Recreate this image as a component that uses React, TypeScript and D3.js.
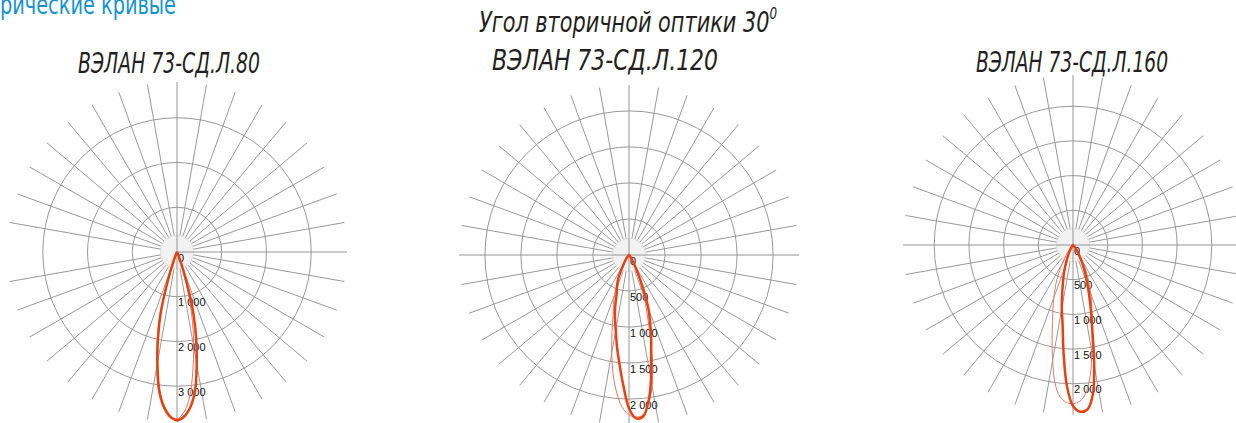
import React from 'react';
import * as d3 from 'd3';

// Gamma angles (degrees, 0 = straight down, positive = to the right)
const GAMMA = [-45, -40, -35, -30, -27.5, -25, -22.5, -20, -17.5, -15, -12.5, -10, -7.5, -5, -2.5, 0, 2.5, 5, 7.5, 10, 12.5, 15, 17.5, 20, 22.5, 25, 27.5, 30, 35, 40, 45];

// Luminous intensity, cd
const C1_MAIN = [0, 0, 5, 10, 20, 40, 100, 270, 720, 1400, 1960, 2520, 3080, 3450, 3670, 3760, 3680, 3470, 3110, 2540, 1980, 1410, 740, 280, 100, 40, 20, 10, 5, 0, 0];
const C1_SEC = [0, 0, 5, 10, 25, 50, 130, 330, 800, 1500, 2050, 2600, 3150, 3500, 3700, 3730, 3580, 3250, 2700, 2150, 1600, 1050, 500, 180, 60, 25, 10, 5, 0, 0, 0];

const C2_MAIN = [0, 40, 80, 150, 240, 340, 420, 490, 570, 740, 900, 1060, 1280, 1520, 1810, 2130, 2270, 2250, 2060, 1760, 1420, 1190, 970, 780, 540, 340, 210, 120, 50, 20, 0];
const C2_SEC = [0, 20, 40, 100, 180, 300, 440, 580, 720, 850, 1090, 1380, 1680, 1930, 2120, 2220, 2250, 2230, 2080, 1850, 1500, 1100, 820, 600, 420, 280, 160, 80, 30, 0, 0];

const C3_MAIN = [0, 10, 40, 90, 125, 170, 235, 330, 440, 560, 720, 930, 1150, 1560, 2030, 2320, 2405, 2380, 2180, 1760, 1300, 1010, 785, 620, 485, 370, 275, 195, 100, 50, 15];
const C3_SEC = [0, 50, 150, 310, 420, 550, 670, 810, 960, 1140, 1390, 1690, 2000, 2190, 2270, 2285, 2255, 2140, 1900, 1570, 1280, 1060, 900, 750, 620, 500, 380, 270, 120, 40, 0];

const C1_TICKS = [0, 1000, 2000, 3000];
const C2_TICKS = [0, 500, 1000, 1500, 2000];
const C3_TICKS = [0, 500, 1000, 1500, 2000];

const SPOKES = [0, 10, 20, 30, 40, 50, 60, 70, 80, 90, 100, 110, 120, 130, 140, 150, 160, 170, 180, 190, 200, 210, 220, 230, 240, 250, 260, 270, 280, 290, 300, 310, 320, 330, 340, 350];
const AXES = [0, 90, 180, 270];

const HEADING = 'рические кривые';
const TITLE_1 = 'ВЭЛАН 73-СД.Л.80';
const TITLE_2A = 'Угол вторичной оптики 30';
const TITLE_2SUP = '0';
const TITLE_2B = 'ВЭЛАН 73-СД.Л.120';
const TITLE_3 = 'ВЭЛАН 73-СД.Л.160';

const R = 170;
const fmt = (v: number) => d3.format(',')(v).replace(/,/g, ' ');
const rad = (g: number) => (g * Math.PI) / 180;

type PolarProps = {
  cx: number;
  cy: number;
  max: number;
  ticks: number[];
  main: number[];
  sec: number[];
  skip?: number[];
};

function Polar({ cx, cy, max, ticks, main, sec, skip = [] }: PolarProps) {
  const r = d3.scaleLinear().domain([0, max]).range([0, R]);
  const line = d3
    .lineRadial<number>()
    .angle((_d, i) => Math.PI - rad(GAMMA[i]))
    .radius((d) => r(d))
    .curve(d3.curveCatmullRomClosed.alpha(0.5));
  const pt = (g: number, rr: number) => [cx + rr * Math.sin(rad(g)), cy + rr * Math.cos(rad(g))];
  const grid = '#999';
  return (
    <g>
      {SPOKES.filter((a) => !AXES.includes(a)).map((a) => {
        const [x, y] = pt(a, R);
        return <line key={'s' + a} x1={cx} y1={cy} x2={x} y2={y} stroke={grid} strokeWidth={1} />;
      })}
      {ticks
        .filter((t) => t > 0 && r(t) < R)
        .map((t) => (
          <circle key={'c' + t} cx={cx} cy={cy} r={r(t)} fill="none" stroke={grid} strokeWidth={1} />
        ))}
      <circle cx={cx} cy={cy} r={16.5} fill="#f2f2f2" stroke="#dcdcdc" strokeWidth={0.8} />
      {AXES.filter((a) => !skip.includes(a)).map((a) => {
        const [x, y] = pt(a, R);
        return <line key={'a' + a} x1={cx} y1={cy} x2={x} y2={y} stroke="#949494" strokeWidth={1} />;
      })}
      {ticks.map((t) => (
        <text
          key={'l' + t}
          x={cx + 1}
          y={cy + r(t) + 9.5}
          fontFamily="'Liberation Sans', Arial, sans-serif"
          fontSize={11}
          fill="#111"
        >
          {fmt(t)}
        </text>
      ))}
      <g transform={`translate(${cx},${cy})`}>
        <path d={line(sec) || ''} fill="none" stroke="#e07a6f" strokeWidth={1} />
        <path d={line(main) || ''} fill="none" stroke="#e8400f" strokeWidth={2.5} strokeLinejoin="round" />
      </g>
    </g>
  );
}

const titleFont = "'Liberation Sans Narrow', 'DejaVu Sans Condensed', sans-serif";

export default function App() {
  return (
    <svg
      width={1236}
      height={423}
      viewBox="0 0 1236 423"
      style={{ position: 'absolute', left: 0, top: 0, background: '#fff' }}
    >
      <rect x={0} y={0} width={1236} height={423} fill="#fff" />
      <text x={0} y={14} fontFamily={titleFont} fontSize={26} fill="#1592d4" textLength={176} lengthAdjust="spacingAndGlyphs">
        {HEADING}
      </text>

      <Polar cx={177} cy={252} max={3800} ticks={C1_TICKS} main={C1_MAIN} sec={C1_SEC} skip={[270]} />
      <Polar cx={629} cy={255} max={2360} ticks={C2_TICKS} main={C2_MAIN} sec={C2_SEC} />
      <Polar cx={1073} cy={245} max={2450} ticks={C3_TICKS} main={C3_MAIN} sec={C3_SEC} />

      <text x={78} y={72.5} fontFamily={titleFont} fontStyle="italic" fontSize={29} fill="#231f20" textLength={182} lengthAdjust="spacingAndGlyphs">
        {TITLE_1}
      </text>
      <text x={479} y={32} fontFamily={titleFont} fontStyle="italic" fontSize={28} fill="#231f20" textLength={298} lengthAdjust="spacingAndGlyphs">
        {TITLE_2A}
        <tspan fontSize={16} dy={-13}>{TITLE_2SUP}</tspan>
      </text>
      <text x={492} y={70} fontFamily={titleFont} fontStyle="italic" fontSize={29} fill="#231f20" textLength={226} lengthAdjust="spacingAndGlyphs">
        {TITLE_2B}
      </text>
      <text x={976} y={72} fontFamily={titleFont} fontStyle="italic" fontSize={29} fill="#231f20" textLength={192} lengthAdjust="spacingAndGlyphs">
        {TITLE_3}
      </text>
    </svg>
  );
}
